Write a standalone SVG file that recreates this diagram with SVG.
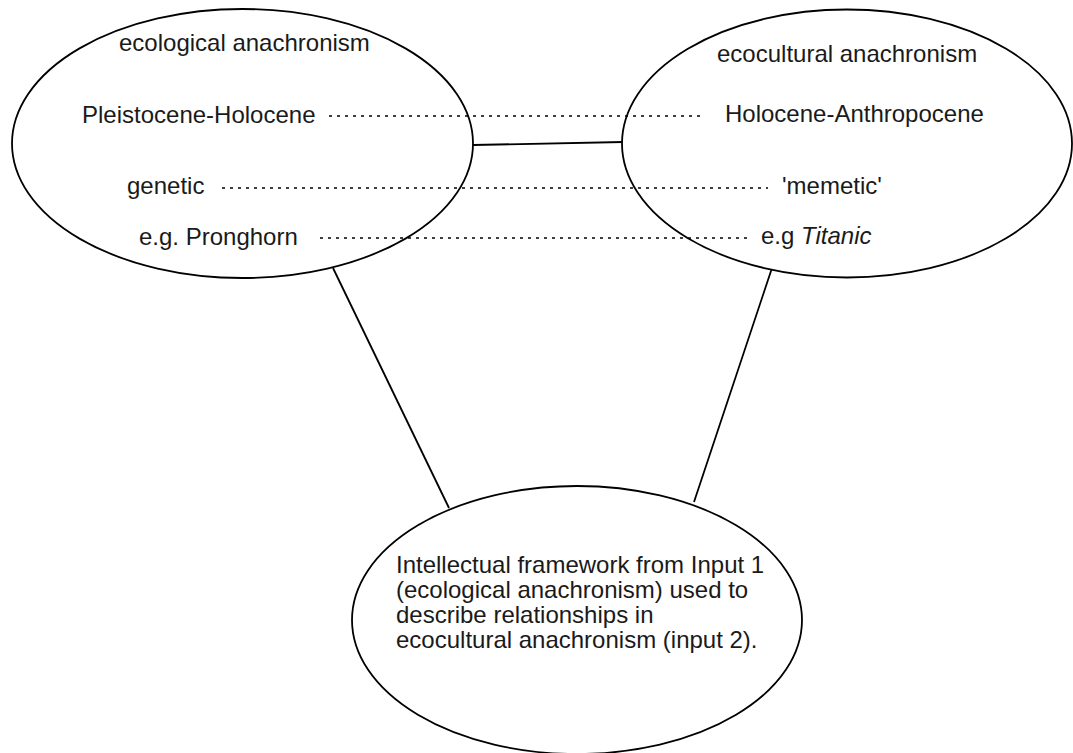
<svg xmlns="http://www.w3.org/2000/svg" width="1073" height="753" viewBox="0 0 1073 753">
  <style>
    .node ellipse { fill: #ffffff; stroke: #000000; stroke-width: 1.8; }
    .label { font-family: "Liberation Sans", Arial, sans-serif; font-size: 24px; fill: #1a1a1a; }
    .solid { stroke: #000000; stroke-width: 1.8; fill: none; }
    .dotted { stroke: #000000; stroke-width: 1.5; stroke-dasharray: 3 5; fill: none; }
  </style>
  <rect width="1073" height="753" fill="#ffffff"/>

  <!-- connectors between the three ellipses -->
  <g id="connectors">
    <line class="solid" x1="473" y1="145" x2="623" y2="142"/>
    <line class="solid" x1="333" y1="268" x2="449" y2="508"/>
    <line class="solid" x1="772" y1="268" x2="694" y2="502"/>
  </g>

  <g id="node-ecological" class="node">
    <ellipse cx="242.5" cy="143.5" rx="230.5" ry="134.5"/>
    <text class="label" x="119" y="51">ecological anachronism</text>
    <text class="label" x="82" y="123">Pleistocene-Holocene</text>
    <text class="label" x="127" y="194">genetic</text>
    <text class="label" x="139" y="245">e.g. Pronghorn</text>
  </g>

  <g id="node-ecocultural" class="node">
    <ellipse cx="847" cy="143.5" rx="225" ry="134"/>
    <text class="label" x="717" y="62">ecocultural anachronism</text>
    <text class="label" x="725" y="122">Holocene-Anthropocene</text>
    <text class="label" x="782" y="194">'memetic'</text>
    <text class="label" x="761" y="244">e.g <tspan font-style="italic">Titanic</tspan></text>
  </g>

  <g id="node-framework" class="node">
    <ellipse cx="577" cy="620" rx="225" ry="134"/>
    <text class="label" x="396">
      <tspan x="396" y="573">Intellectual framework from Input 1</tspan>
      <tspan x="396" y="598">(ecological anachronism) used to</tspan>
      <tspan x="396" y="623">describe relationships in</tspan>
      <tspan x="396" y="648">ecocultural anachronism (input 2).</tspan>
    </text>
  </g>

  <!-- dotted correspondences drawn over the ellipses -->
  <g id="correspondences">
    <line class="dotted" x1="329" y1="116" x2="703" y2="116"/>
    <line class="dotted" x1="222" y1="188" x2="768" y2="188"/>
    <line class="dotted" x1="320" y1="238" x2="747" y2="238"/>
  </g>
</svg>
